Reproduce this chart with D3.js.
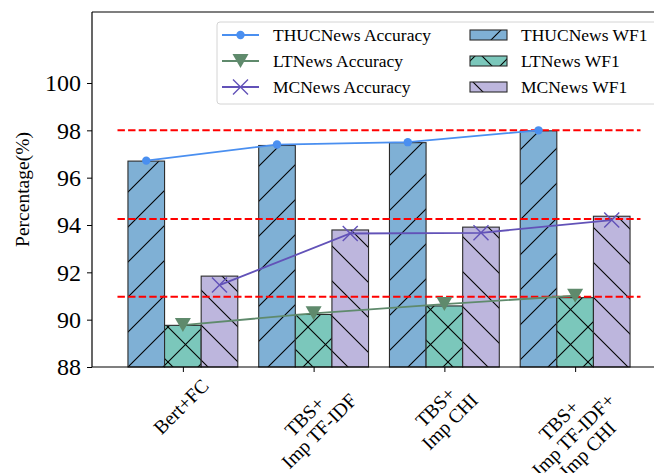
<!DOCTYPE html>
<html>
<head>
<meta charset="utf-8">
<script src="https://cdn.jsdelivr.net/npm/d3@7"></script>
<style>
  body { margin: 0; background: #fff; }
  text { font-family: "Liberation Serif", "Times New Roman", serif; fill: #000; }
</style>
</head>
<body>
<div id="chart"></div>
<script>
var svgWidth = 654;
var svgHeight = 473;

var margin = { top: 12, right: -12, bottom: 106, left: 92 };
var width = svgWidth - margin.left - margin.right;
var height = svgHeight - margin.top - margin.bottom;

// data
var methods = [["Bert+FC"], ["TBS+", "Imp TF-IDF"], ["TBS+", "Imp CHI"], ["TBS+", "Imp TF-IDF+", "Imp CHI"]];
var thucWF1 = [96.70, 97.36, 97.48, 97.98];
var ltWF1 = [89.76, 90.22, 90.58, 90.93];
var mcWF1 = [91.84, 93.79, 93.91, 94.37];
var thucAcc = [96.72, 97.40, 97.50, 98.00];
var ltAcc = [89.77, 90.27, 90.66, 91.01];
var mcAcc = [91.46, 93.64, 93.67, 94.21];
var refLines = [98.0, 94.25, 90.97];
var yTicks = [88, 90, 92, 94, 96, 98, 100];

var colors = {
  thucBar: "#7fb0d5", ltBar: "#7bc7bb", mcBar: "#bdb6dd",
  thucLine: "#4a8ff0", ltLine: "#5f8a6c", mcLine: "#6252b8"
};

var svg = d3.select("#chart")
  .append("svg")
  .attr("width", svgWidth)
  .attr("height", svgHeight);

// hatch patterns
var defs = svg.append("defs");
function makeHatch(id, bg, paths) {
  var p = defs.append("pattern")
    .attr("id", id)
    .attr("patternUnits", "userSpaceOnUse")
    .attr("width", 35).attr("height", 35)
    .attr("x", 6).attr("y", 0);
  p.append("rect").attr("width", 35).attr("height", 35).attr("fill", bg);
  paths.forEach(function(d) {
    p.append("path").attr("d", d).attr("stroke", "#000").attr("stroke-width", 1.1).attr("fill", "none");
  });
}
makeHatch("hatchSlash", colors.thucBar, ["M-5,5 L5,-5", "M0,35 L35,0", "M30,40 L40,30"]);
makeHatch("hatchBack", colors.mcBar, ["M-5,30 L5,40", "M0,0 L35,35", "M30,-5 L40,5"]);
makeHatch("hatchCross", colors.ltBar, ["M-5,5 L5,-5", "M0,35 L35,0", "M30,40 L40,30",
                                       "M-5,30 L5,40", "M0,0 L35,35", "M30,-5 L40,5"]);

var chartGroup = svg.append("g")
  .attr("transform", `translate(${margin.left}, ${margin.top})`);

var xScale = d3.scaleLinear()
  .domain([-0.695, 3.695])
  .range([0, width]);

var yScale = d3.scaleLinear()
  .domain([88, 103])
  .range([height, 0]);

var barW = 0.28;
var series = [
  { values: thucWF1, offset: -barW, fill: "url(#hatchSlash)" },
  { values: ltWF1, offset: 0, fill: "url(#hatchCross)" },
  { values: mcWF1, offset: barW, fill: "url(#hatchBack)" }
];

// bars
series.forEach(function(s) {
  chartGroup.selectAll(null)
    .data(s.values)
    .enter()
    .append("rect")
    .attr("x", (d, i) => xScale(i + s.offset - barW / 2))
    .attr("y", d => yScale(d))
    .attr("width", xScale(barW) - xScale(0))
    .attr("height", d => yScale(88) - yScale(d))
    .attr("fill", s.fill)
    .attr("stroke", "#2b2b2b")
    .attr("stroke-width", 1.1);
});

// red dashed reference lines
chartGroup.selectAll(".ref")
  .data(refLines)
  .enter()
  .append("line")
  .attr("x1", xScale(-0.5))
  .attr("x2", xScale(3.5))
  .attr("y1", d => yScale(d))
  .attr("y2", d => yScale(d))
  .attr("stroke", "red")
  .attr("stroke-width", 2)
  .attr("stroke-dasharray", "7.4,3.2");

// accuracy lines
var accSeries = [
  { values: thucAcc, offset: -barW, color: colors.thucLine, marker: "circle" },
  { values: ltAcc, offset: 0, color: colors.ltLine, marker: "tri" },
  { values: mcAcc, offset: barW, color: colors.mcLine, marker: "x" }
];

function drawMarker(g, type, color, cx, cy) {
  if (type === "circle") {
    g.append("circle").attr("cx", cx).attr("cy", cy).attr("r", 4.2).attr("fill", color);
  } else if (type === "tri") {
    g.append("path")
      .attr("d", `M${cx - 8},${cy - 7} L${cx + 8},${cy - 7} L${cx},${cy + 7} Z`)
      .attr("fill", color);
  } else {
    var s = 7.5;
    g.append("path")
      .attr("d", `M${cx - s},${cy - s} L${cx + s},${cy + s} M${cx - s},${cy + s} L${cx + s},${cy - s}`)
      .attr("stroke", color).attr("stroke-width", 1.4).attr("fill", "none");
  }
}

accSeries.forEach(function(s) {
  var line = d3.line()
    .x((d, i) => xScale(i + s.offset))
    .y(d => yScale(d));
  chartGroup.append("path")
    .datum(s.values)
    .attr("d", line)
    .attr("fill", "none")
    .attr("stroke", s.color)
    .attr("stroke-width", 1.8);
  s.values.forEach(function(d, i) {
    drawMarker(chartGroup, s.marker, s.color, xScale(i + s.offset), yScale(d));
  });
});

// axes
var leftAxis = d3.axisLeft(yScale).tickValues(yTicks).tickSize(5).tickPadding(6);
var yAxis = chartGroup.append("g").call(leftAxis);
yAxis.selectAll("text").attr("font-size", "24px").style("font-family", "Liberation Serif");
yAxis.select(".domain").remove();

var bottomAxis = d3.axisBottom(xScale).tickValues([0, 1, 2, 3]).tickSize(5).tickFormat("");
var xAxis = chartGroup.append("g")
  .attr("transform", `translate(0, ${height})`)
  .call(bottomAxis);
xAxis.select(".domain").remove();

// spines
chartGroup.append("line").attr("x1", 0).attr("x2", 0).attr("y1", 0).attr("y2", height)
  .attr("stroke", "#000").attr("stroke-width", 1.2);
chartGroup.append("line").attr("x1", 0).attr("x2", width).attr("y1", 0).attr("y2", 0)
  .attr("stroke", "#000").attr("stroke-width", 1.2);
chartGroup.append("line").attr("x1", 0).attr("x2", width).attr("y1", height).attr("y2", height)
  .attr("stroke", "#000").attr("stroke-width", 1.2);

// rotated x tick labels, box centred on tick
var xFont = 19.5, lineH = 20.5, labelTop = 8;
methods.forEach(function(lines, i) {
  var g = chartGroup.append("g");
  var t = g.append("text")
    .attr("text-anchor", "middle")
    .attr("font-size", xFont + "px");
  lines.forEach(function(l, j) {
    t.append("tspan").attr("x", 0).attr("y", (j - (lines.length - 1) / 2) * lineH).attr("dy", "0.35em").text(l);
  });
  var w = d3.max(t.selectAll("tspan").nodes(), n => n.getComputedTextLength());
  var h = lines.length * lineH;
  var ext = (w + h) / Math.SQRT2;
  g.attr("transform", `translate(${xScale(i) - 2}, ${height + labelTop + ext / 2}) rotate(-45)`);
});

// y label
chartGroup.append("text")
  .attr("transform", "rotate(-90)")
  .attr("x", -height / 2)
  .attr("y", -63)
  .attr("text-anchor", "middle")
  .attr("font-size", "19.5px")
  .text("Percentage(%)");

// legend
var legend = svg.append("g");
legend.append("rect")
  .attr("x", 217).attr("y", 22).attr("width", 445).attr("height", 82)
  .attr("rx", 3)
  .attr("fill", "#fff").attr("fill-opacity", 0.8)
  .attr("stroke", "#d4d4d4").attr("stroke-width", 1);

var legendRows = [35, 61, 87];
var lineNames = ["THUCNews Accuracy", "LTNews Accuracy", "MCNews Accuracy"];
var barNames = ["THUCNews WF1", "LTNews WF1", "MCNews WF1"];

accSeries.forEach(function(s, i) {
  var y = legendRows[i];
  legend.append("line").attr("x1", 222).attr("x2", 259).attr("y1", y).attr("y2", y)
    .attr("stroke", s.color).attr("stroke-width", 1.8);
  drawMarker(legend, s.marker, s.color, 240.5, y);
  legend.append("text").attr("x", 273).attr("y", y).attr("dy", "0.35em")
    .attr("font-size", "17.5px").text(lineNames[i]);
});

series.forEach(function(s, i) {
  var y = legendRows[i];
  legend.append("rect").attr("x", 470).attr("y", y - 5).attr("width", 37).attr("height", 10)
    .attr("fill", s.fill).attr("stroke", "#2b2b2b").attr("stroke-width", 1.1);
  legend.append("text").attr("x", 521).attr("y", y).attr("dy", "0.35em")
    .attr("font-size", "17.5px").text(barNames[i]);
});
</script>
</body>
</html>
